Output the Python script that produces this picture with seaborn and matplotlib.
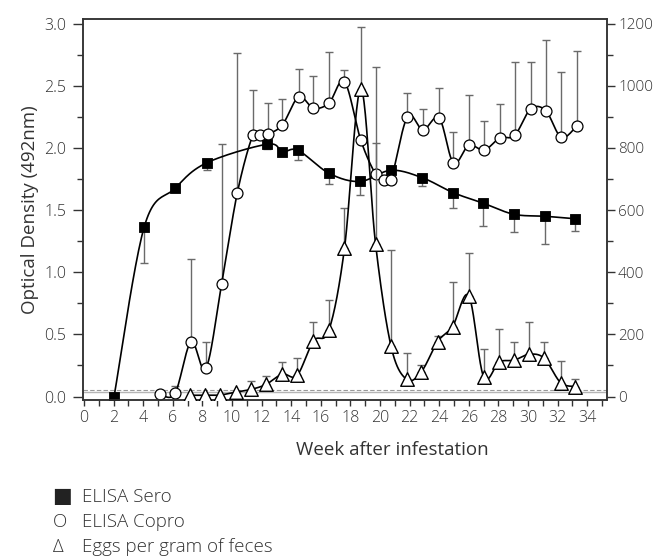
import numpy as np
import pandas as pd
import matplotlib
matplotlib.use("Agg")
import matplotlib.pyplot as plt
import seaborn as sns
from matplotlib.ticker import MultipleLocator

# ---------------- data ----------------
sero_week = [2.03, 4.07, 6.15, 8.29, 12.39, 13.4, 14.47, 16.57, 18.65, 20.74,
             22.86, 24.95, 26.98, 29.05, 31.15, 33.2]
sero_od = [0.0, 1.366, 1.675, 1.88, 2.03, 1.97, 1.98, 1.795, 1.73, 1.82,
           1.76, 1.64, 1.555, 1.466, 1.45, 1.43]
sero_err = [0, 0.29, 0, 0.06, 0.04, 0, 0.08, 0.085, 0.11, 0,
            0.07, 0.12, 0.185, 0.146, 0.22, 0.10]

copro_week = [5.14, 6.15, 7.23, 8.24, 9.3, 10.36, 11.4, 11.9, 12.4, 13.4,
              14.5, 15.5, 16.55, 17.6, 18.7, 19.7, 20.3, 20.75, 21.85, 22.9,
              24.0, 24.96, 26.0, 27.05, 28.1, 29.1, 30.18, 31.2, 32.25, 33.3]
copro_od = [0.018, 0.026, 0.44, 0.227, 0.905, 1.64, 2.10, 2.10, 2.11, 2.185,
            2.41, 2.32, 2.36, 2.533, 2.063, 1.79, 1.745, 1.745, 2.25, 2.145,
            2.24, 1.88, 2.02, 1.983, 2.08, 2.10, 2.313, 2.30, 2.085, 2.176]
copro_err = [0, 0.06, 0.67, 0.21, 1.125, 1.126, 0.366, 0, 0.25, 0.205,
             0.225, 0.258, 0.414, 0.097, 0, 0.25, 0, 0, 0.19, 0.165,
             0.24, 0.25, 0.405, 0.237, 0.27, 0.59, 0.377, 0.57, 0.525, 0.604]

egg_week = [7.15, 8.2, 9.2, 10.25, 11.3, 12.3, 13.4, 14.4, 15.5, 16.55,
            17.6, 18.7, 19.7, 20.75, 21.8, 22.8, 23.9, 24.9, 26.0, 27.0,
            28.05, 29.07, 30.1, 31.1, 32.2, 33.2]
egg_count = [4, 4, 5, 14, 23, 39, 72, 68, 179, 214,
             477, 991, 491, 161, 55, 80, 177, 225, 324, 64,
             111, 117, 136, 123, 45, 32]
egg_err = [0, 0, 0, 0, 27, 27, 39, 55, 62, 96,
           131, 197, 570, 311, 86, 20, 18, 144, 138, 90,
           106, 59, 105, 53, 70, 25]

cutoff_sero = 0.035
cutoff_copro = 0.054

x_ticks = list(range(0, 35, 2))
legend_labels = ["ELISA Sero", "ELISA Copro", "Eggs per gram of feces"]
legend_symbols = ["\u25A0", "O", "\u0394"]


def smooth(x, y, n=24):
    """Bezier smoothing (Catmull-Rom style) through the given points."""
    P = np.column_stack([np.asarray(x, float), np.asarray(y, float)])
    E = np.vstack([P[0], P, P[-1]])
    t = np.linspace(0, 1, n)[:, None]
    out = []
    for i in range(len(P) - 1):
        p0, p1, p2, p3 = E[i], E[i + 1], E[i + 2], E[i + 3]
        c1 = p1 + (p2 - p0) / 6.0
        c2 = p2 - (p3 - p1) / 6.0
        seg = (1 - t) ** 3 * p1 + 3 * (1 - t) ** 2 * t * c1 + 3 * (1 - t) * t ** 2 * c2 + t ** 3 * p2
        out.append(seg if i == 0 else seg[1:])
    S = np.vstack(out)
    return pd.DataFrame({"x": S[:, 0], "y": S[:, 1]})


sns.set_style("ticks")
plt.rcParams["font.family"] = ["Open Sans", "DejaVu Sans"]
plt.rcParams["font.weight"] = "light"
TXT = "#333333"
EB = "#6a6a6a"
SP = "#333333"

fig = plt.figure(figsize=(6.56, 5.58), dpi=100)
ax = fig.add_axes([83 / 656, 1 - 400 / 558, 524 / 656, 381 / 558])
ax2 = ax.twinx()

# cut-off lines
ax.axhline(cutoff_sero, color="#b5b5b5", lw=1.0, zorder=0)
ax.axhline(cutoff_copro, color="#9a9a9a", lw=0.8, ls=(0, (4, 2)), zorder=0)

# ---- sero ----
d = smooth(sero_week, sero_od)
sns.lineplot(data=d, x="x", y="y", sort=False, estimator=None, ax=ax,
             color="black", lw=1.2, zorder=2)
sw = np.array(sero_week); so = np.array(sero_od); se = np.array(sero_err)
m = se > 0
ax.errorbar(sw[m], so[m], yerr=[se[m], np.zeros(m.sum())], fmt="none",
            ecolor=EB, elinewidth=1.0, capsize=3, capthick=1.0, zorder=1)
sns.scatterplot(x=sero_week, y=sero_od, marker="s", s=52, color="black",
                edgecolor="black", linewidth=0.6, ax=ax, zorder=4)

# ---- copro ----
d = smooth(copro_week, copro_od)
sns.lineplot(data=d, x="x", y="y", sort=False, estimator=None, ax=ax,
             color="black", lw=1.2, zorder=2)
cw = np.array(copro_week); co = np.array(copro_od); ce = np.array(copro_err)
m = ce > 0
ax.errorbar(cw[m], co[m], yerr=[np.zeros(m.sum()), ce[m]], fmt="none",
            ecolor=EB, elinewidth=1.0, capsize=3, capthick=1.0, zorder=1)
sns.scatterplot(x=copro_week, y=copro_od, marker="o", s=62, color="white",
                edgecolor="black", linewidth=0.9, ax=ax, zorder=4)

# ---- eggs (right axis) ----
d = smooth(egg_week, egg_count)
sns.lineplot(data=d, x="x", y="y", sort=False, estimator=None, ax=ax2,
             color="black", lw=1.2, zorder=2)
ew = np.array(egg_week); ec = np.array(egg_count); ee = np.array(egg_err)
m = ee > 0
ax2.errorbar(ew[m], ec[m], yerr=[np.zeros(m.sum()), ee[m]], fmt="none",
             ecolor=EB, elinewidth=1.0, capsize=3, capthick=1.0, zorder=1)
sns.scatterplot(x=egg_week, y=egg_count, marker="^", s=95, color="white",
                edgecolor="black", linewidth=1.0, ax=ax2, zorder=4)

# ---- axes ----
ax.set_xlim(-0.07, 35.34)
ax.set_ylim(-0.028, 3.037)
ax2.set_ylim(-11.2, 1214.8)
ax.set_xticks(x_ticks)
ax.xaxis.set_minor_locator(MultipleLocator(1))
ax.yaxis.set_major_locator(MultipleLocator(0.5))
ax.yaxis.set_minor_locator(MultipleLocator(0.25))
ax2.yaxis.set_major_locator(MultipleLocator(200))
ax2.yaxis.set_minor_locator(MultipleLocator(100))
ax.yaxis.set_major_formatter(matplotlib.ticker.FormatStrFormatter("%.1f"))

for a in (ax, ax2):
    for s in a.spines.values():
        s.set_visible(True)
        s.set_color(SP)
        s.set_linewidth(1.1)
    a.tick_params(axis="both", which="major", direction="out", length=7,
                  width=1.0, color=SP, labelsize=11.5, labelcolor=TXT, pad=5)
    a.tick_params(axis="both", which="minor", direction="out", length=4,
                  width=1.0, color=SP)
ax.tick_params(axis="x", which="major", length=4, pad=3)
ax.tick_params(axis="x", which="minor", length=4)
ax2.tick_params(axis="y", which="major", length=6, pad=2, labelsize=11)
ax2.set_ylabel("")
ax.set_xlabel("Week after infestation", fontsize=13.5, color=TXT)
ax.xaxis.set_label_coords(0.59, -0.107)
ax.set_ylabel("Optical Density (492nm)", fontsize=13.5, color=TXT, labelpad=4)

# ---- legend (text lines below the plot) ----
ys = [1 - 502 / 558, 1 - 527 / 558, 1 - 552 / 558]
for sym, lab, yy in zip(legend_symbols, legend_labels, ys):
    if sym == "\u25A0":
        fig.text(52 / 656, yy, sym, fontsize=15, color="#222222", va="baseline",
                 ha="left", family=["DejaVu Sans"], weight="normal")
    else:
        fig.text(53 / 656, yy, sym, fontsize=13.5, color=TXT, va="baseline", ha="left")
    fig.text(82 / 656, yy, lab, fontsize=13.5, color=TXT, va="baseline", ha="left")

fig.savefig("out.png", dpi=100)
